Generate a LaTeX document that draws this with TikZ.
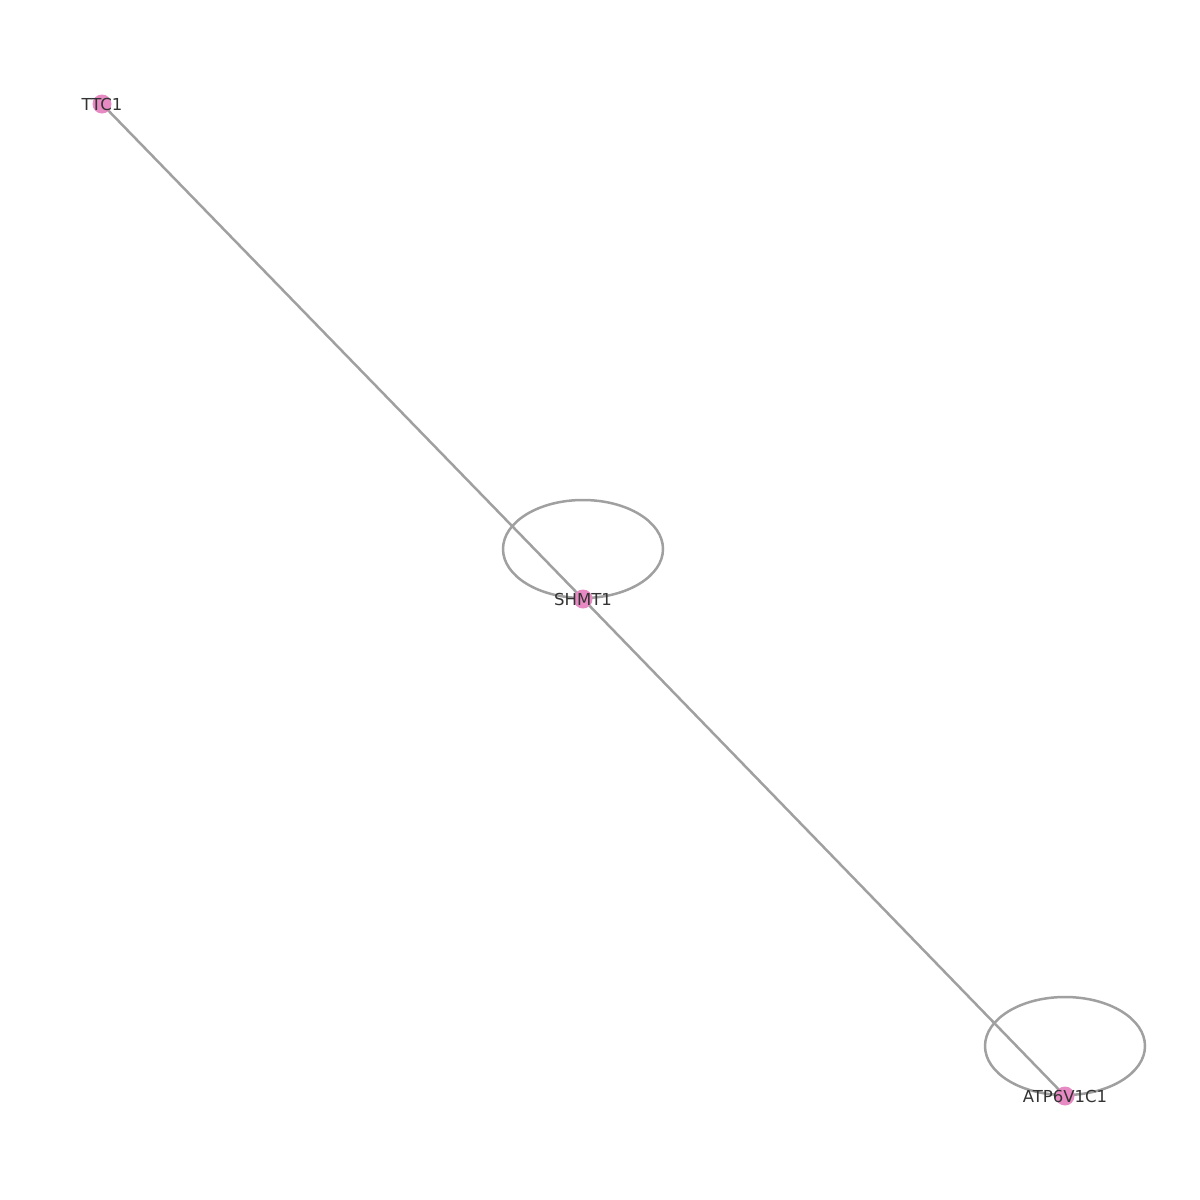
\documentclass[tikz,border=0pt]{standalone}
\usepackage{fontspec}
\setmainfont{DejaVu Sans}
\definecolor{nodepink}{HTML}{E78AC3}
\definecolor{edgegray}{HTML}{A0A0A0}
\definecolor{labelgray}{HTML}{333333}
\begin{document}
\begin{tikzpicture}[x=1pt,y=-1pt,
  gene/.style={circle,fill=nodepink,draw=none,minimum size=19pt,inner sep=0pt},
  genelabel/.style={text=labelgray,font=\fontsize{16.5}{16.5}\selectfont,inner sep=0pt},
  edge/.style={draw=edgegray,line width=2.5pt}]
\useasboundingbox (0,0) rectangle (1200,1200);
\coordinate (pTTC1) at (102,104);
\coordinate (pSHMT1) at (583,599);
\coordinate (pATP) at (1065,1096);
% edges
\draw[edge] (pTTC1) -- (pSHMT1);
\draw[edge] (pSHMT1) -- (pATP);
\draw[edge] ([yshift=50pt]pSHMT1) ellipse [x radius=80pt, y radius=49pt];
\draw[edge] ([yshift=50pt]pATP) ellipse [x radius=80pt, y radius=49pt];
% nodes
\node[gene] (TTC1) at (pTTC1) {};
\node[gene] (SHMT1) at (pSHMT1) {};
\node[gene] (ATP6V1C1) at (pATP) {};
% labels
\node[genelabel] (lTTC1) at (TTC1) {TTC1};
\node[genelabel] (lSHMT1) at (SHMT1) {SHMT1};
\node[genelabel] (lATP6V1C1) at (ATP6V1C1) {ATP6V1C1};
\end{tikzpicture}
\end{document}
